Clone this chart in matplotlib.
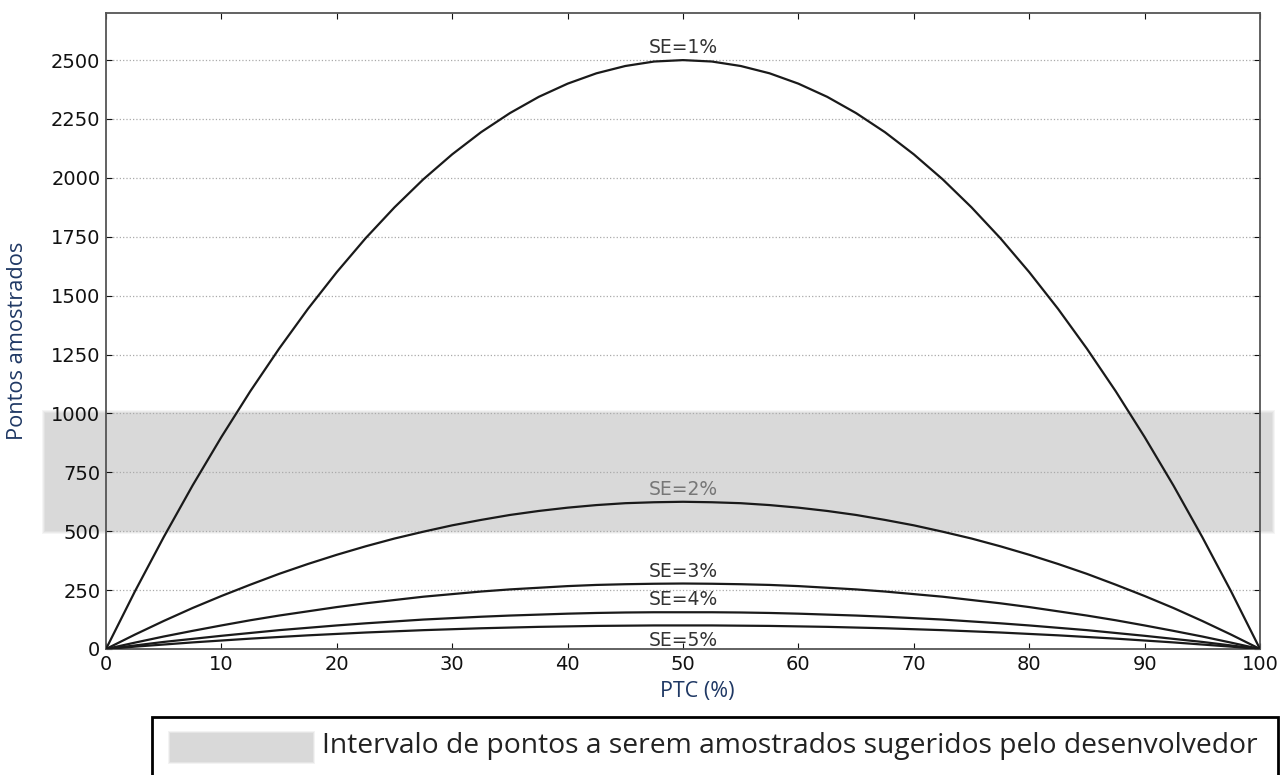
import matplotlib
matplotlib.use('Agg')
import matplotlib.pyplot as plt
from matplotlib.patches import Rectangle

# PTC (%) sampled every 2.5
ptc = [0, 2.5, 5, 7.5, 10, 12.5, 15, 17.5, 20, 22.5, 25, 27.5, 30, 32.5, 35, 37.5, 40,
       42.5, 45, 47.5, 50, 52.5, 55, 57.5, 60, 62.5, 65, 67.5, 70, 72.5, 75, 77.5, 80,
       82.5, 85, 87.5, 90, 92.5, 95, 97.5, 100]

se1 = [0, 244, 475, 694, 900, 1094, 1275, 1444, 1600, 1744, 1875, 1994, 2100, 2194, 2275,
       2344, 2400, 2444, 2475, 2494, 2500, 2494, 2475, 2444, 2400, 2344, 2275, 2194, 2100,
       1994, 1875, 1744, 1600, 1444, 1275, 1094, 900, 694, 475, 244, 0]
se2 = [0, 61, 119, 174, 225, 273, 319, 361, 400, 436, 469, 498, 525, 548, 569, 586, 600,
       611, 619, 623, 625, 623, 619, 611, 600, 586, 569, 548, 525, 498, 469, 436, 400, 361,
       319, 273, 225, 174, 119, 61, 0]
se3 = [0, 27, 53, 77, 100, 122, 142, 160, 178, 194, 208, 222, 233, 244, 253, 260, 267, 272,
       275, 277, 278, 277, 275, 272, 267, 260, 253, 244, 233, 222, 208, 194, 178, 160, 142,
       122, 100, 77, 53, 27, 0]
se4 = [0, 15, 30, 43, 56, 68, 80, 90, 100, 109, 117, 125, 131, 137, 142, 146, 150, 153, 155,
       156, 156, 156, 155, 153, 150, 146, 142, 137, 131, 125, 117, 109, 100, 90, 80, 68, 56,
       43, 30, 15, 0]
se5 = [0, 10, 19, 28, 36, 44, 51, 58, 64, 70, 75, 80, 84, 88, 91, 94, 96, 98, 99, 100, 100,
       100, 99, 98, 96, 94, 91, 88, 84, 80, 75, 70, 64, 58, 51, 44, 36, 28, 19, 10, 0]

curvas = [se1, se2, se3, se4, se5]
rotulos = ['SE=1%', 'SE=2%', 'SE=3%', 'SE=4%', 'SE=5%']
picos = [2500, 625, 278, 156, 100]

faixa = (500, 1000)  # intervalo sugerido

W, H = 1288, 775
fig = plt.figure(figsize=(W/100, H/100), dpi=100)
ax = fig.add_axes([106/W, 1-649/H, 1154/W, 636/H])

for y in curvas:
    ax.plot(ptc, y, color='#1a1a1a', lw=1.6, zorder=3)

# faixa cinza (passa da area do grafico), bordas um pouco borradas
px_x = 1/1154
px_y = 2700/636
for k, a in [(3, 0.25), (2, 0.35), (1, 0.5), (0, 1.0)]:
    ax.add_patch(Rectangle((-0.053 - k*px_x, faixa[0] - k*px_y), 1.063 + 2*k*px_x,
                           faixa[1]-faixa[0] + 2*k*px_y,
                           transform=ax.get_yaxis_transform(), facecolor='#d9d9d9',
                           edgecolor='none', alpha=a, clip_on=False, zorder=0.2))

for i in range(len(rotulos)):
    cor = '#777777' if i == 1 else '#333333'
    if i == 4:
        ax.text(50, picos[i]-22, rotulos[i], ha='center', va='top', fontsize=13.5, color=cor, zorder=4)
    else:
        ax.text(50, picos[i]+12, rotulos[i], ha='center', va='bottom', fontsize=13.5, color=cor, zorder=4)

ax.set_xlim(0, 100)
ax.set_ylim(0, 2700)
ax.set_xticks(range(0, 101, 10))
ax.set_yticks(range(0, 2501, 250))
ax.set_axisbelow(True)
ax.yaxis.grid(True, linestyle=':', color='#aaaaaa', lw=0.9)
ax.tick_params(direction='in', top=True, right=True, labelsize=14, pad=4, colors='#111111',
               length=4)
for s in ax.spines.values():
    s.set_color('#555555')
    s.set_linewidth(1.3)

fig.text(18/W, 1-341/H, 'Pontos amostrados', rotation=90, ha='center', va='center',
         fontsize=15.7, color='#1f3864', family='Open Sans')
fig.text(697/W, 1-691/H, 'PTC (%)', ha='center', va='center', fontsize=15.5,
         color='#1f3864', family='Open Sans')

# caixa da legenda
fig.patches.append(Rectangle((152/W, -0.02), 1126/W, 0.02+58/H, transform=fig.transFigure,
                             facecolor='white', edgecolor='black', lw=2))
for k, a in [(2, 0.3), (1, 0.5), (0, 1.0)]:
    fig.patches.append(Rectangle(((170-k)/W, 1-(762+k)/H), (143+2*k)/W, (29+2*k)/H,
                                 transform=fig.transFigure, facecolor='#d9d9d9',
                                 edgecolor='none', alpha=a))
fig.text(322/W, 1-746/H, 'Intervalo de pontos a serem amostrados sugeridos pelo desenvolvedor',
         ha='left', va='center', fontsize=20.3, color='#222222', family='Open Sans')

fig.savefig('out.png', dpi=100)
